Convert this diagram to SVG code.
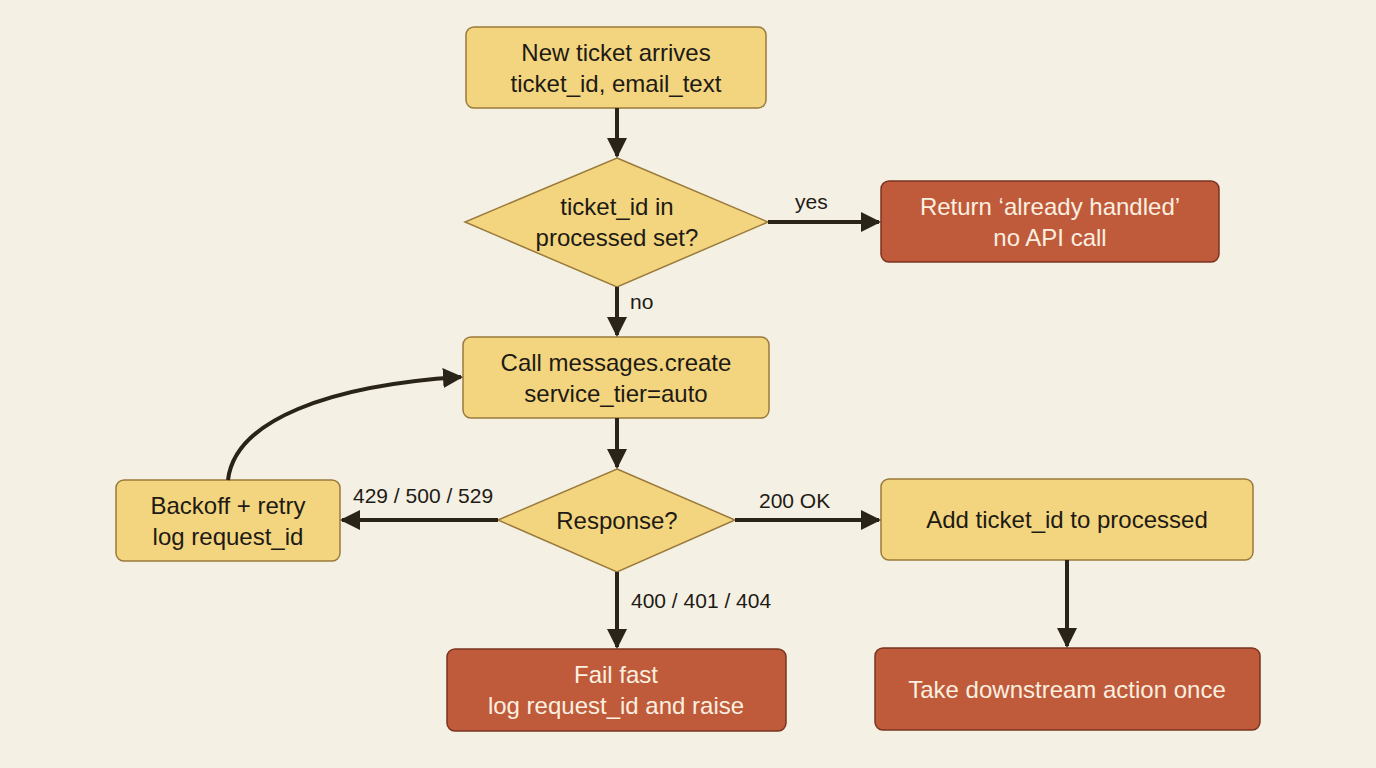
<svg xmlns="http://www.w3.org/2000/svg" width="1376" height="768" viewBox="0 0 1376 768">
<defs>
<style>
.y{fill:#F3D57F;stroke:#9A7A3A;stroke-width:1.5}
.r{fill:#BF5B3A;stroke:#7A3420;stroke-width:1.5}
.t{font-family:"Liberation Sans",Arial,sans-serif;font-size:24px;text-anchor:middle;fill:#1E1A14}
.w{fill:#FBEFE0}
.l{font-family:"Liberation Sans",Arial,sans-serif;font-size:21px;fill:#1E1A14}
.c{stroke:#2A2318;stroke-width:4;fill:none;marker-end:url(#a)}
</style>
<marker id="a" viewBox="0 0 10 10" refX="9" refY="5" markerWidth="5" markerHeight="5" orient="auto" markerUnits="strokeWidth"><path d="M0,0L10,5L0,10z" fill="#2A2318"/></marker>
</defs>
<rect width="1376" height="768" fill="#F4F0E4"/>
<g id="n1"><rect class="y" x="466" y="27" width="300" height="81" rx="8"/><text class="t" x="616" y="61">New ticket arrives</text><text class="t" x="616" y="92">ticket_id, email_text</text></g>
<g id="n2"><polygon class="y" points="617,158 768,222 617,287 465,222"/><text class="t" x="617" y="215">ticket_id in</text><text class="t" x="617" y="246">processed set?</text></g>
<g id="n3"><rect class="r" x="881" y="181" width="338" height="81" rx="8"/><text class="t w" x="1050" y="215">Return ‘already handled’</text><text class="t w" x="1050" y="246">no API call</text></g>
<g id="n4"><rect class="y" x="463" y="337" width="306" height="81" rx="8"/><text class="t" x="616" y="371">Call messages.create</text><text class="t" x="616" y="402">service_tier=auto</text></g>
<g id="n5"><polygon class="y" points="617,469 735,520 617,572 498,520"/><text class="t" x="617" y="529">Response?</text></g>
<g id="n6"><rect class="y" x="116" y="480" width="224" height="81" rx="8"/><text class="t" x="228" y="514">Backoff + retry</text><text class="t" x="228" y="545">log request_id</text></g>
<g id="n7"><rect class="y" x="881" y="479" width="372" height="81" rx="8"/><text class="t" x="1067" y="528">Add ticket_id to processed</text></g>
<g id="n8"><rect class="r" x="447" y="649" width="339" height="82" rx="8"/><text class="t w" x="616" y="683">Fail fast</text><text class="t w" x="616" y="714">log request_id and raise</text></g>
<g id="n9"><rect class="r" x="875" y="648" width="385" height="82" rx="8"/><text class="t w" x="1067" y="698">Take downstream action once</text></g>
<g id="connectors">
<path class="c" d="M617,108V156"/>
<path class="c" d="M768,222H879"/>
<path class="c" d="M617,287V335"/>
<path class="c" d="M617,418V467"/>
<path class="c" d="M498,520H342"/>
<path class="c" d="M735,520H879"/>
<path class="c" d="M617,572V647"/>
<path class="c" d="M1067,560V646"/>
<path class="c" d="M228,480C235,420 330,385 461,377"/>
<text class="l" x="795" y="209">yes</text>
<text class="l" x="630" y="309">no</text>
<text class="l" x="353" y="503">429 / 500 / 529</text>
<text class="l" x="759" y="508">200 OK</text>
<text class="l" x="631" y="608">400 / 401 / 404</text>
</g>
</svg>
